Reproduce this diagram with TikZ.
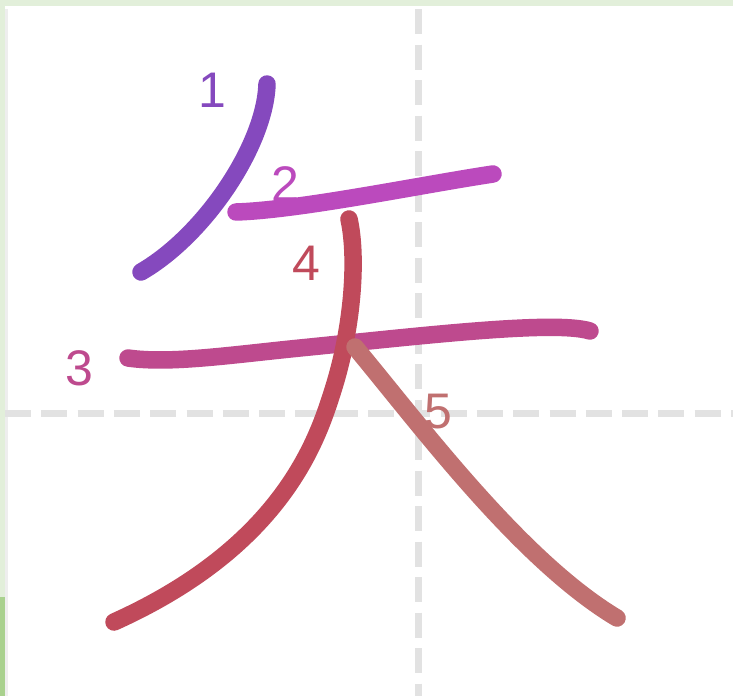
\documentclass[tikz,border=0pt]{standalone}
\usepackage{fontspec}
\setmainfont{Liberation Sans}
\definecolor{paleband}{HTML}{E2EFDA}
\definecolor{leafband}{HTML}{A9D18E}
\definecolor{edgegray}{HTML}{EEEEEE}
\definecolor{gridgray}{HTML}{E2E2E2}
\definecolor{inkone}{HTML}{8549BE}
\definecolor{inktwo}{HTML}{BB4ABD}
\definecolor{inkthree}{HTML}{BE4A8E}
\definecolor{inkfour}{HTML}{C04A5B}
\definecolor{inkfive}{HTML}{C07070}

\begin{document}
\begin{tikzpicture}[x=1pt, y=-1pt,
      brush/.style={line width=17.5pt, line cap=round, line join=round},
      guide/.style={gridgray, line width=7pt, dash pattern=on 26pt off 10.3pt},
      num/.style={inner sep=0pt, font=\fontsize{50}{60}\selectfont}
    ]
    \useasboundingbox[fill=white] (0,0) rectangle (733,696);
    % frame bands
    \fill[paleband] (0,0) rectangle (733,6);
    \fill[paleband] (0,0) rectangle (5,597);
    \fill[leafband] (0,597) rectangle (5,696);
    \fill[edgegray] (5,9) rectangle (8,696);
    % guide cross
    \draw[guide] (5,413) -- (733,413);
    \draw[guide, dash pattern=on 25pt off 10.5pt] (418.5,9) -- (418.5,696);

    % strokes in writing order
    \draw[brush, inkone] (267,84) .. controls (265,145) and (205,235) .. (141,272);
    \draw[brush, inktwo] (236,212) .. controls (300,210) and (420,185) .. (493,174);
    \draw[brush, inkthree] (128,358) .. controls (170,364) and (230,355) .. (300,348)
      .. controls (420,336) and (555,320) .. (590,331);
    \draw[brush, inkfour] (349,219) .. controls (358,260) and (352,330) .. (333,390)
      .. controls (318,437) and (285,545) .. (114,622);
    \draw[brush, inkfive] (355,347) .. controls (420,425) and (520,560) .. (617,618);

    % stroke numbers
    \node[num, text=inkone]   (n1) at (212,90)  {1};
    \node[num, text=inktwo]   (n2) at (285,184) {2};
    \node[num, text=inkthree] (n3) at (79,368)  {3};
    \node[num, text=inkfour]  (n4) at (306,263) {4};
    \node[num, text=inkfive]  (n5) at (438,412) {5};
  \end{tikzpicture}
\end{document}
